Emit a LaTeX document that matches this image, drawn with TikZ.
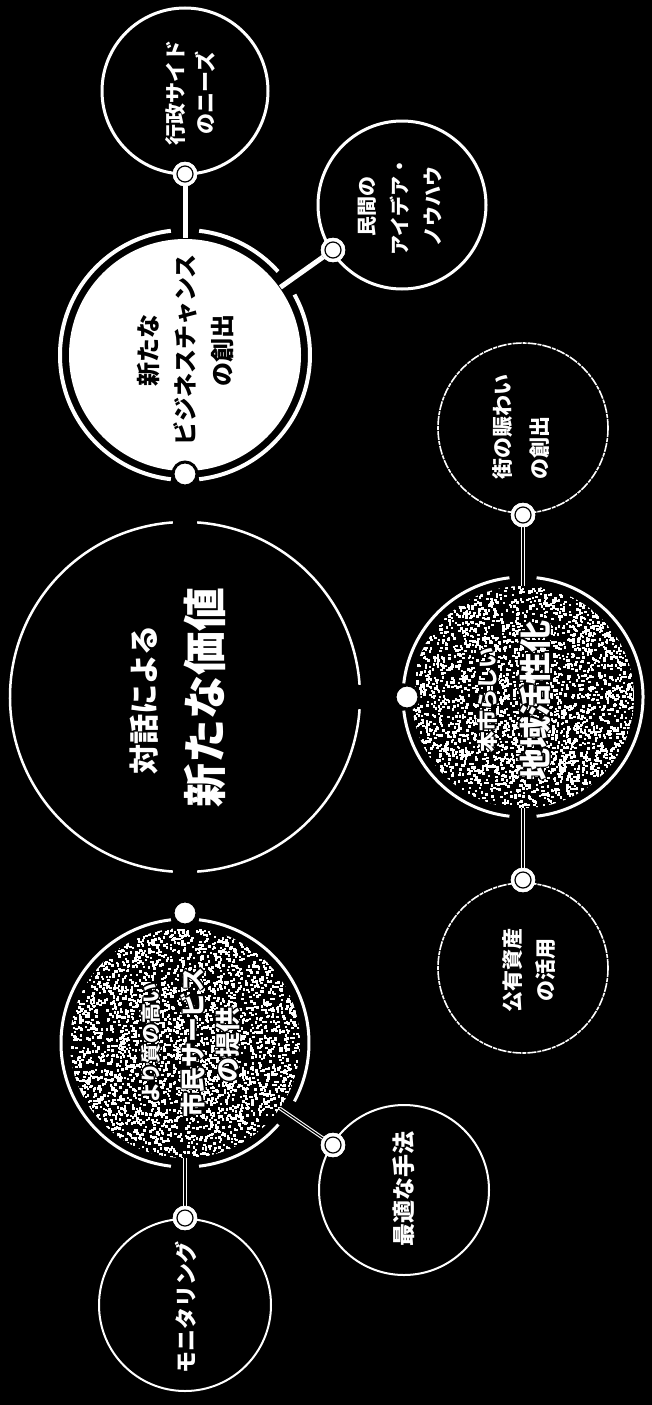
\documentclass[tikz,border=0pt]{standalone}
\usepackage{fontspec}
\setmainfont{Noto Sans CJK JP}
\newcommand\haloNode[4]{%
  \foreach \hx/\hy in {-1.3/0,1.3/0,0/-1.3,0/1.3,-0.9/-0.9,0.9/0.9,-0.9/0.9,0.9/-0.9}{%
    \node[rotate=90,font=#3,text=black,inner sep=0pt] at ([shift={(\hx pt,\hy pt)}]#2) {#4};}%
  \node[rotate=90,font=#3,text=white,inner sep=0pt] (#1) at (#2) {#4};%
}
\begin{document}
\begin{tikzpicture}[x=1pt,y=-1pt,
  holder/.style={circle,draw=none,inner sep=0pt,outer sep=0pt},
  solidring/.style={circle,draw=white,line width=3pt,inner sep=0pt,outer sep=0pt},
  roughring/.style={circle,draw=white,line width=1.6pt,dash pattern=on 9pt off 1pt on 4pt off 1pt,inner sep=0pt,outer sep=0pt},
  thinring/.style={circle,draw=white,line width=2pt,inner sep=0pt,outer sep=0pt},
  soliddot/.style={circle,fill=white,draw=black,line width=3pt,minimum size=24pt,inner sep=0pt},
  ringdot/.style={circle,fill=white,draw=white,minimum size=24pt,inner sep=0pt,
     path picture={\draw[black,line width=1.2pt] (path picture bounding box.center) circle[radius=8pt];}},
  thickconn/.style={draw=white,line width=5pt},
  dblconn/.style={draw=white,line width=1.1pt,double=black,double distance=1.2pt},
  lbl/.style={rotate=90,text=white,inner sep=0pt,align=center},
]
\fill[black] (0,0) rectangle (652,1405);
\useasboundingbox (0,0) rectangle (652,1405);

% holder nodes for the ringed circles
\node[holder,minimum size=350pt] (C0) at (185,697) {};
\node[holder,minimum size=234pt] (CW) at (185,355) {};
\node[holder,minimum size=230pt] (CL) at (185,1043) {};
\node[holder,minimum size=222pt] (CR) at (523,697) {};

% textured fills
\begin{scope}
  \clip (CL.center) circle[radius=115pt];
  \fill[black] (CL.center) circle[radius=115pt];
  \pgfmathsetseed{7}
  \foreach \i in {1,...,3800}{\fill[white] ({185+rand*116},{1043+rand*116}) rectangle ++(2.5,2.5);}
\end{scope}
\begin{scope}
  \clip (CR.center) circle[radius=111pt];
  \fill[black] (CR.center) circle[radius=111pt];
  \pgfmathsetseed{11}
  \foreach \i in {1,...,3500}{\fill[white] ({523+rand*112},{697+rand*112}) rectangle ++(2.5,2.5);}
\end{scope}
% white disk
\fill[white] (CW.center) circle[radius=116pt];

% rings with gaps
\draw[white,line width=2.5pt] (C0.center) ++(4:175) arc[start angle=4,end angle=86,radius=175];
\draw[white,line width=2.5pt] (C0.center) ++(94:175) arc[start angle=94,end angle=266,radius=175];
\draw[white,line width=2.5pt] (C0.center) ++(274:175) arc[start angle=274,end angle=356,radius=175];

\draw[white,line width=4pt] (CW.center) ++(96.5:125) arc[start angle=96.5,end angle=263.5,radius=125];
\draw[white,line width=4pt] (CW.center) ++(276.5:125) arc[start angle=276.5,end angle=318.1,radius=125];
\draw[white,line width=4pt] (CW.center) ++(331.1:125) arc[start angle=331.1,end angle=443.5,radius=125];

\draw[white,line width=3pt] (CL.center) ++(-83.5:124) arc[start angle=-83.5,end angle=28.1,radius=124];
\draw[white,line width=3pt] (CL.center) ++(41.1:124) arc[start angle=41.1,end angle=83.5,radius=124];
\draw[white,line width=3pt] (CL.center) ++(96.5:124) arc[start angle=96.5,end angle=263.5,radius=124];

\draw[white,line width=3pt] (CR.center) ++(-83.5:120) arc[start angle=-83.5,end angle=83.5,radius=120];
\draw[white,line width=3pt] (CR.center) ++(96.5:120) arc[start angle=96.5,end angle=173.5,radius=120];
\draw[white,line width=3pt] (CR.center) ++(186.5:120) arc[start angle=186.5,end angle=263.5,radius=120];

% small circles
\node[solidring,minimum size=166pt] (G) at (185,91) {};
\node[solidring,minimum size=168pt] (M) at (402,205) {};
\node[roughring,minimum size=170pt] (T) at (523,428) {};
\node[roughring,minimum size=170pt] (K) at (523,968) {};
\node[thinring,minimum size=170pt] (S) at (404,1190) {};
\node[thinring,minimum size=172pt] (Mo) at (185,1305) {};

% dots (placed first as coordinates for connectors)
\node[ringdot] (dG) at (185,174) {};
\node[ringdot] (dM) at (333,250) {};
\node[ringdot] (dT) at (523,515) {};
\node[ringdot] (dK) at (523,880) {};
\node[ringdot] (dS) at (333,1145) {};
\node[ringdot] (dMo) at (185,1218) {};

% connectors
\draw[thickconn] (dG) -- (CW);
\draw[thickconn] (dM) -- (CW);
\draw[dblconn] (dT) -- (CR);
\draw[dblconn] (CR) -- (dK);
\draw[dblconn] (CL) -- (dS);
\draw[dblconn] (CL) -- (dMo);

% redraw dots over connectors
\node[ringdot] (dG2) at (dG) {};
\node[ringdot] (dM2) at (dM) {};
\node[ringdot] (dT2) at (dT) {};
\node[ringdot] (dK2) at (dK) {};
\node[ringdot] (dS2) at (dS) {};
\node[ringdot] (dMo2) at (dMo) {};
\node[soliddot] (dW) at (185,474) {};
\node[soliddot] (dR) at (407,697) {};
\node[soliddot] (dL) at (185,913) {};

% texts
\node[lbl,font=\fontsize{30}{30}\selectfont\bfseries] (t0a) at (144,700) {対話による};
\node[lbl,font=\fontsize{44}{44}\selectfont\bfseries] (t0b) at (205,697) {新たな価値};

\node[lbl,font=\fontsize{21}{30}\selectfont\bfseries] (tG) at (190,93) {行政サイド\\のニーズ};
\node[lbl,font=\fontsize{20}{33}\selectfont\bfseries] (tM) at (400,206) {民間の\\アイデア・\\ノウハウ};
\node[lbl,text=black,font=\fontsize{24}{37}\selectfont\bfseries] (tW) at (185,350) {新たな\\ビジネスチャンス\\の創出};
\node[lbl,align=left,font=\fontsize{21}{37}\selectfont\bfseries] (tT) at (521,427) {街の賑わい\\の創出};
\node[lbl,font=\fontsize{21}{33}\selectfont\bfseries] (tK) at (529,970) {公有資産\\の活用};
\node[lbl,font=\fontsize{23}{23}\selectfont\bfseries] (tS) at (404,1189) {最適な手法};
\node[lbl,font=\fontsize{22}{22}\selectfont\bfseries] (tMo) at (186,1307) {モニタリング};

\haloNode{tL1}{151,1043}{\fontsize{20}{20}\selectfont\bfseries}{より質の高い}
\haloNode{tL2}{193,1042}{\fontsize{25}{25}\selectfont\bfseries}{市民サービス}
\haloNode{tL3}{228,1045}{\fontsize{25}{25}\selectfont\bfseries}{の提供}
\haloNode{tR1}{488,700}{\fontsize{21}{21}\selectfont\bfseries}{本市らしい}
\haloNode{tR2}{535,700}{\fontsize{32}{32}\selectfont\bfseries}{地域活性化}
\end{tikzpicture}
\end{document}
